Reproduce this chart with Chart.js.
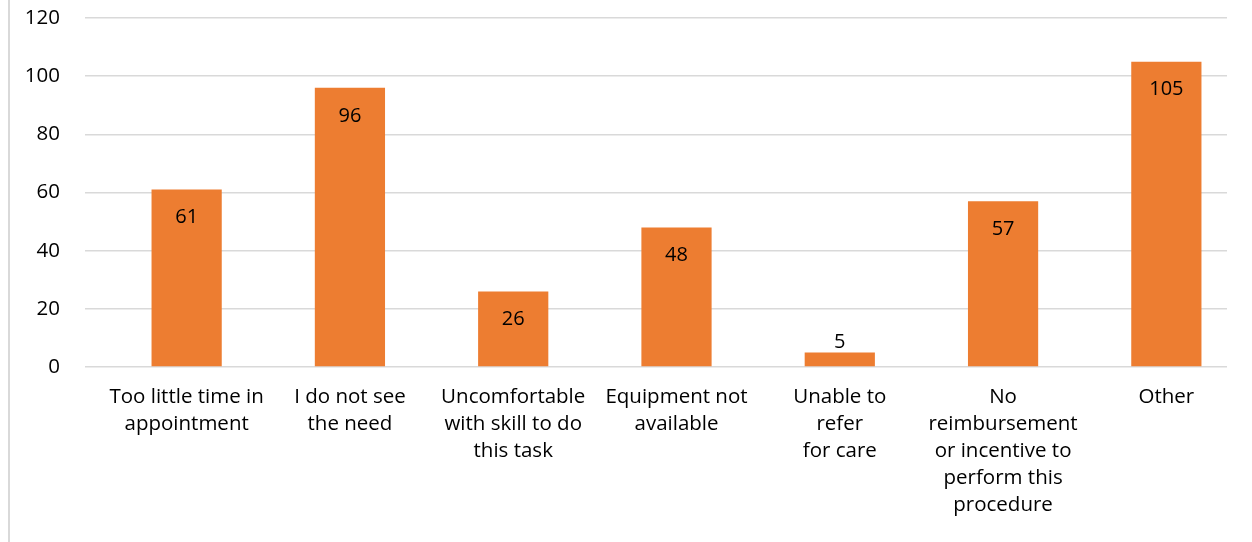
<!DOCTYPE html>
<html>
<head>
<meta charset="utf-8">
<script src="https://cdn.jsdelivr.net/npm/chart.js@4"></script>
<style>
  body { margin: 0; background: #fff; }
  #wrap { position: relative; width: 1252px; height: 542px; }
  #edge { position: absolute; left: 8px; top: 0; width: 2px; height: 542px; background: #d9d9d9; }
</style>
</head>
<body>
<div id="wrap">
  <div id="edge"></div>
  <canvas id="barChart" width="1252" height="542"></canvas>
</div>
<script>
// categories (multi-line labels as in the original)
const reasons = [
  ['Too little time in', 'appointment'],
  ['I do not see', 'the need'],
  ['Uncomfortable', 'with skill to do', 'this task'],
  ['Equipment not', 'available'],
  ['Unable to', 'refer', 'for care'],
  ['No', 'reimbursement', 'or incentive to', 'perform this', 'procedure'],
  ['Other']
];
const counts = [61, 96, 26, 48, 5, 57, 105];
const yMax = 120;
const yStep = 20;

const fontName = '"Open Sans", Lato, sans-serif';
Chart.defaults.font.family = fontName;
Chart.defaults.color = '#000';

// the original's gridlines stop a little short of the last category's edge
const gridTrim = {
  id: 'gridTrim',
  beforeDatasetsDraw(chart) {
    const a = chart.chartArea;
    chart.ctx.clearRect(a.right - 21, a.top - 2, 30, a.bottom - a.top + 4);
  }
};

// value labels: inside the top of the bar, above it when the bar is too short
const valueLabels = {
  id: 'valueLabels',
  afterDatasetsDraw(chart) {
    const ctx = chart.ctx;
    const meta = chart.getDatasetMeta(0);
    ctx.save();
    ctx.font = '20px ' + fontName;
    ctx.fillStyle = '#000';
    ctx.textAlign = 'center';
    ctx.textBaseline = 'middle';
    meta.data.forEach((bar, i) => {
      const h = bar.base - bar.y;
      const y = h > 40 ? bar.y + 28 : bar.y - 10;
      ctx.fillText(counts[i], bar.x, y);
    });
    ctx.restore();
  }
};

const barData = {
  labels: reasons,
  datasets: [{
    data: counts,
    backgroundColor: '#ED7D31',
    borderWidth: 0,
    categoryPercentage: 1,
    barPercentage: 0.43
  }]
};

const barConfig = {
  type: 'bar',
  data: barData,
  plugins: [gridTrim, valueLabels],
  options: {
    responsive: false,
    animation: false,
    layout: { padding: { top: 18, right: 4, left: 0, bottom: 0 } },
    plugins: {
      legend: { display: false },
      tooltip: { enabled: false }
    },
    scales: {
      x: {
        grid: { display: false },
        border: { display: false },
        ticks: {
          font: { size: 20.5, lineHeight: '27px' },
          color: '#000',
          padding: 9,
          maxRotation: 0,
          autoSkip: false
        },
        afterFit: s => { s.height = 175; }
      },
      y: {
        min: 0,
        max: yMax,
        ticks: {
          stepSize: yStep,
          font: { size: 20.5 },
          color: '#000',
          padding: 25
        },
        grid: {
          color: '#d9d9d9',
          lineWidth: 1.5,
          drawTicks: true,
          tickLength: 20
        },
        border: { display: false },
        afterFit: s => {
          s.width = 105;
          s.paddingTop = 0;
          s.paddingBottom = 0;
        }
      }
    }
  }
};

const barChart = new Chart(
  document.getElementById('barChart'),
  barConfig
);
</script>
</body>
</html>
